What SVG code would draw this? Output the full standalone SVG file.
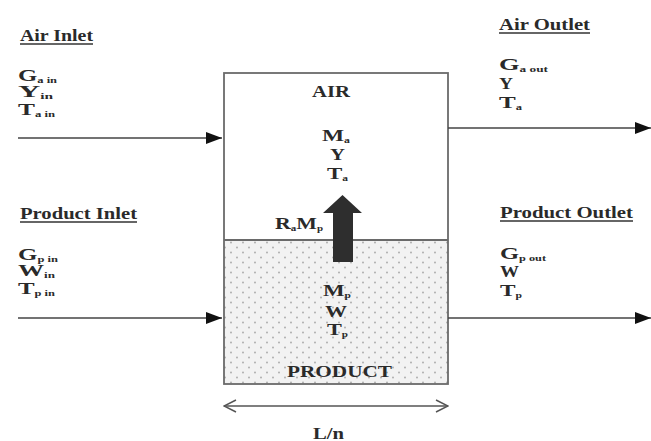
<svg xmlns="http://www.w3.org/2000/svg" width="651" height="441" viewBox="0 0 651 441">
  <style>
    text { font-family: "Liberation Serif", "Times New Roman", serif; font-weight: bold; fill: #2a2a2a; font-size: 16px; }
    .sub { font-size: 8px; }
    .ul { stroke: #333; stroke-width: 1.3; }
    .flow { stroke: #444; stroke-width: 1.6; fill: none; }
    .box { fill: none; stroke: #6a6a6a; stroke-width: 1.8; }
  </style>
  <defs>
    <marker id="head" viewBox="0 0 16 12" refX="16" refY="6" markerWidth="16" markerHeight="12" markerUnits="userSpaceOnUse" orient="auto">
      <path d="M0,0 L16,6 L0,12 Z" fill="#111"/>
    </marker>
    <marker id="open" viewBox="0 0 14 14" refX="13" refY="7" markerWidth="14" markerHeight="14" markerUnits="userSpaceOnUse" orient="auto-start-reverse">
      <path d="M1,1 L13,7 L1,13" fill="none" stroke="#555" stroke-width="1.5"/>
    </marker>
    <pattern id="dots" width="12" height="10" patternUnits="userSpaceOnUse">
      <rect width="12" height="10" fill="#f2f2f2"/>
      <circle cx="3" cy="2.5" r="0.9" fill="#a8a8a8"/>
      <circle cx="9" cy="7.5" r="0.9" fill="#a8a8a8"/>
    </pattern>
  </defs>

  <rect width="651" height="441" fill="#ffffff"/>

  <g id="chamber">
    <rect x="224" y="240" width="224" height="144" fill="url(#dots)"/>
    <rect class="box" x="224" y="73" width="224" height="311"/>
    <line class="box" x1="224" y1="240" x2="448" y2="240"/>
    <text x="312" y="97" textLength="38" lengthAdjust="spacingAndGlyphs">AIR</text>
    <text x="322" y="141" textLength="28" lengthAdjust="spacingAndGlyphs">M<tspan class="sub" dy="2">a</tspan></text>
    <text x="330" y="160" textLength="15" lengthAdjust="spacingAndGlyphs">Y</text>
    <text x="327" y="179" textLength="21" lengthAdjust="spacingAndGlyphs">T<tspan class="sub" dy="2">a</tspan></text>
    <text x="275" y="229" textLength="48" lengthAdjust="spacingAndGlyphs">R<tspan class="sub" dy="2">a</tspan><tspan dy="-2">M</tspan><tspan class="sub" dy="2">p</tspan></text>
    <path d="M342.5,195 L362,213 L353,213 L353,262 L333,262 L333,213 L323,213 Z" fill="#2e2e2e"/>
    <text x="323" y="296" textLength="28" lengthAdjust="spacingAndGlyphs">M<tspan class="sub" dy="2">p</tspan></text>
    <text x="325" y="317" textLength="22" lengthAdjust="spacingAndGlyphs">W</text>
    <text x="327" y="335" textLength="21" lengthAdjust="spacingAndGlyphs">T<tspan class="sub" dy="2">p</tspan></text>
    <text x="287" y="377" textLength="105" lengthAdjust="spacingAndGlyphs">PRODUCT</text>
  </g>

  <g id="air-inlet">
    <text x="20" y="41" textLength="73" lengthAdjust="spacingAndGlyphs">Air Inlet</text>
    <line class="ul" x1="20" y1="44" x2="93" y2="44"/>
    <text x="18" y="81" textLength="39" lengthAdjust="spacingAndGlyphs">G<tspan class="sub" dy="2">a in</tspan></text>
    <text x="18" y="97" textLength="35" lengthAdjust="spacingAndGlyphs">Y<tspan class="sub" dy="2">in</tspan></text>
    <text x="18" y="115" textLength="37" lengthAdjust="spacingAndGlyphs">T<tspan class="sub" dy="2">a in</tspan></text>
  </g>

  <g id="product-inlet">
    <text x="20" y="219" textLength="117" lengthAdjust="spacingAndGlyphs">Product Inlet</text>
    <line class="ul" x1="20" y1="222" x2="137" y2="222"/>
    <text x="18" y="260" textLength="40" lengthAdjust="spacingAndGlyphs">G<tspan class="sub" dy="2">p in</tspan></text>
    <text x="18" y="276" textLength="37" lengthAdjust="spacingAndGlyphs">W<tspan class="sub" dy="2">in</tspan></text>
    <text x="18" y="294" textLength="37" lengthAdjust="spacingAndGlyphs">T<tspan class="sub" dy="2">p in</tspan></text>
  </g>

  <g id="air-outlet">
    <text x="499" y="30" textLength="91" lengthAdjust="spacingAndGlyphs">Air Outlet</text>
    <line class="ul" x1="499" y1="33" x2="590" y2="33"/>
    <text x="499" y="70" textLength="49" lengthAdjust="spacingAndGlyphs">G<tspan class="sub" dy="2">a out</tspan></text>
    <text x="499" y="89" textLength="14" lengthAdjust="spacingAndGlyphs">Y</text>
    <text x="499" y="108" textLength="23" lengthAdjust="spacingAndGlyphs">T<tspan class="sub" dy="2">a</tspan></text>
  </g>

  <g id="product-outlet">
    <text x="500" y="218" textLength="133" lengthAdjust="spacingAndGlyphs">Product Outlet</text>
    <line class="ul" x1="500" y1="221" x2="633" y2="221"/>
    <text x="500" y="259" textLength="46" lengthAdjust="spacingAndGlyphs">G<tspan class="sub" dy="2">p out</tspan></text>
    <text x="500" y="277" textLength="19" lengthAdjust="spacingAndGlyphs">W</text>
    <text x="500" y="296" textLength="22" lengthAdjust="spacingAndGlyphs">T<tspan class="sub" dy="2">p</tspan></text>
  </g>

  <g id="dimension">
    <text x="313" y="439" textLength="31" lengthAdjust="spacingAndGlyphs">L/n</text>
  </g>

  <g id="connectors">
    <line class="flow" x1="18" y1="138" x2="222" y2="138" marker-end="url(#head)"/>
    <line class="flow" x1="18" y1="318" x2="222" y2="318" marker-end="url(#head)"/>
    <line class="flow" x1="448" y1="128" x2="651" y2="128" marker-end="url(#head)"/>
    <line class="flow" x1="448" y1="318" x2="651" y2="318" marker-end="url(#head)"/>
    <line x1="224" y1="406" x2="448" y2="406" stroke="#555" stroke-width="1.5" marker-start="url(#open)" marker-end="url(#open)"/>
  </g>
</svg>
